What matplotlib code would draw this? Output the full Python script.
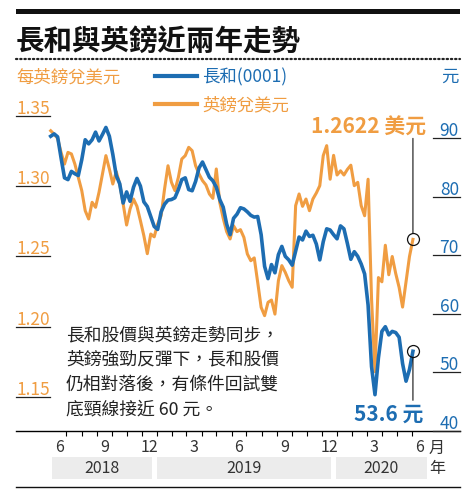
import matplotlib
matplotlib.use('Agg')
import matplotlib.pyplot as plt
import matplotlib.dates as mdates
import matplotlib.transforms as mtransforms
from matplotlib.patches import Rectangle
from matplotlib.lines import Line2D
import pandas as pd

plt.rcParams['font.family'] = ['Noto Sans CJK TC', 'DejaVu Sans']

# ---- data (weekly) ----
title = '長和與英鎊近兩年走勢'
dates = pd.date_range('2018-05-30', periods=106, freq='7D')

# CK Hutchison (0001) close, HK$
ckh = [90.3, 90.7, 90.2, 86.6, 83.2, 82.9, 84.3, 83.9, 83.6, 86.3,
       89.7, 89.0, 89.7, 91.0, 89.5, 90.6, 91.8, 90.3, 87.2, 83.6,
       82.2, 78.9, 80.8, 79.2, 81.6, 83.1, 81.8, 79.1, 78.3, 76.6,
       74.9, 74.4, 77.4, 78.7, 79.4, 79.5, 79.8, 81.2, 82.9, 83.2,
       81.2, 81.0, 82.6, 84.9, 85.9, 84.6, 83.3, 82.7, 81.6, 79.5,
       78.2, 75.3, 73.5, 76.3, 77.0, 78.1, 77.9, 77.4, 76.8, 76.5,
       76.6, 73.5, 68.1, 66.0, 68.4, 67.0, 70.1, 71.5, 69.8, 69.2,
       68.3, 70.7, 73.1, 72.6, 74.1, 73.2, 73.4, 71.9, 69.2, 72.3,
       74.5, 74.3, 73.5, 72.8, 75.0, 74.5, 72.0, 69.3, 70.6, 69.8,
       68.5, 66.8, 61.5, 51.0, 46.2, 52.5, 57.0, 57.8, 56.4, 57.0,
       56.8, 56.0, 51.5, 48.5, 50.5, 53.6]

# GBP/USD
gbp = [1.3395, 1.3370, 1.3341, 1.3241, 1.3158, 1.3241, 1.3230, 1.3158, 1.3063, 1.2969,
       1.2826, 1.2767, 1.2886, 1.2850, 1.2957, 1.3087, 1.3218, 1.3123, 1.3016, 1.3104,
       1.3016, 1.2874, 1.2724, 1.2838, 1.2909, 1.2857, 1.2755, 1.2648, 1.2520, 1.2660,
       1.2640, 1.2731, 1.2790, 1.2980, 1.3146, 1.3028, 1.2969, 1.3063, 1.3194, 1.3218,
       1.3277, 1.3253, 1.3146, 1.3087, 1.3040, 1.3009, 1.2945, 1.2914, 1.3123, 1.2886,
       1.2772, 1.2677, 1.2625, 1.2719, 1.2677, 1.2691, 1.2636, 1.2518, 1.2470, 1.2490,
       1.2316, 1.2138, 1.2079, 1.2174, 1.2190, 1.2090, 1.2328, 1.2435, 1.2387, 1.2328,
       1.2281, 1.2862, 1.2945, 1.2857, 1.2909, 1.2826, 1.2909, 1.2952, 1.3004, 1.3218,
       1.3289, 1.3050, 1.3220, 1.3080, 1.3110, 1.3080, 1.3120, 1.3150, 1.3004, 1.3028,
       1.2862, 1.2790, 1.3050, 1.2200, 1.1680, 1.2350, 1.2320, 1.2580, 1.2370, 1.2500,
       1.2380, 1.2280, 1.2140, 1.2320, 1.2500, 1.2622]

gbp_ticks = [1.35, 1.30, 1.25, 1.20, 1.15]
ckh_ticks = [90, 80, 70, 60, 50, 40]
month_labels = ['6', '9', '12', '3', '6', '9', '12', '3', '6']
label_months = ['2018-06-16', '2018-09-16', '2018-12-16', '2019-03-16', '2019-06-16',
                '2019-09-16', '2019-12-16', '2020-03-16', '2020-06-16']
years = ['2018', '2019', '2020']
year_spans = [('2018-06-01', '2018-12-21'), ('2019-01-01', '2019-12-20'),
              ('2019-12-29', '2020-07-01')]
note_lines = ['長和股價與英鎊走勢同步，',
              '英鎊強勁反彈下，長和股價',
              '仍相對落後，有條件回試雙',
              '底頸線接近 60 元。']

BLUE = '#1d6db2'
ORANGE = '#f09d42'

W, H = 474, 502
fig = plt.figure(figsize=(W / 100, H / 100), dpi=100)


def fx(x):
    return x / W


def fy(y):
    return 1 - y / H


def pts(px):
    return px * 0.72


# main plotting area (pixels: x 16..460, y 120..432)
ax = fig.add_axes([fx(16), fy(432), fx(460) - fx(16), fy(120) - fy(432)])
ax.patch.set_visible(False)
ppd = 180 / 365.25          # pixels per day
jun1 = mdates.date2num(pd.Timestamp('2018-06-01'))
ax.set_xlim(jun1 - 35.7 / ppd, jun1 + 408.3 / ppd)
ax.set_ylim(1.15 - 34 / 1405, 1.15 + 278 / 1405)

axb = ax.twinx()
axb.set_ylim(40, 40 + 312 / 5.86)

ax.plot(dates, gbp, color=ORANGE, lw=2.2, solid_joinstyle='round')
axb.plot(dates, ckh, color=BLUE, lw=2.6, solid_joinstyle='round')

for a in (ax, axb):
    for s in a.spines.values():
        s.set_visible(False)
    a.set_yticks([])
ax.spines['bottom'].set_visible(True)
ax.spines['bottom'].set_linewidth(1.0)

month_starts = pd.date_range('2018-07-01', '2020-06-01', freq='MS')
ax.set_xticks(month_starts)
ax.tick_params(axis='x', direction='out', length=3.6, width=0.8,
               labelbottom=False)

# y labels with underlines
tl = mtransforms.blended_transform_factory(fig.transFigure, ax.transData)
tr = mtransforms.blended_transform_factory(fig.transFigure, axb.transData)
up = mtransforms.ScaledTranslation(0, 3 / 100, fig.dpi_scale_trans)
for v in gbp_ticks:
    ax.add_line(Line2D([fx(16), fx(50)], [v, v], transform=tl, color='#222222',
                       lw=0.9, clip_on=False))
    ax.text(fx(16), v, f'{v:.2f}', transform=tl + up, ha='left', va='baseline',
            fontsize=12.5, color=ORANGE, clip_on=False)
for v in ckh_ticks:
    axb.add_line(Line2D([fx(433), fx(460)], [v, v], transform=tr, color='#222222',
                        lw=0.9, clip_on=False))
    axb.text(fx(459), v, f'{v}', transform=tr + up, ha='right', va='baseline',
             fontsize=12.5, color=BLUE, clip_on=False)

# month labels, year boxes
tx = mtransforms.blended_transform_factory(ax.transData, fig.transFigure)
for d, lab in zip(label_months, month_labels):
    ax.text(pd.Timestamp(d), fy(448), lab, transform=tx, ha='center', va='center',
            fontsize=11.5, color='#333333')
for (s, e), yr in zip(year_spans, years):
    x0 = mdates.date2num(pd.Timestamp(s))
    x1 = mdates.date2num(pd.Timestamp(e))
    ax.add_patch(Rectangle((x0, fy(480)), x1 - x0, fy(458) - fy(480), transform=tx,
                           facecolor='#ececec', edgecolor='none', clip_on=False))
    ax.text((x0 + x1) / 2, fy(469), yr, transform=tx, ha='center', va='center',
            fontsize=11.5, color='#333333')
fig.text(fx(437), fy(448), '月', ha='center', va='center', fontsize=11.5, color='#333333')
fig.text(fx(437), fy(469), '年', ha='center', va='center', fontsize=11.5, color='#333333')
fig.add_artist(Line2D([fx(16), fx(460)], [fy(488), fy(488)], color='#111111', lw=1.0))

# header
fig.add_artist(Rectangle((fx(16), fy(15)), fx(460) - fx(16), fy(10) - fy(15),
                         facecolor='#111111', edgecolor='none'))
fig.text(fx(16), fy(43), title, ha='left', va='center', fontsize=20.5,
         fontweight='bold', color='#111111')
fig.add_artist(Line2D([fx(16), fx(460)], [fy(60), fy(60)], color='#222222', lw=1.6,
                      linestyle=(0, (0.6, 1.3)), dash_capstyle='round'))

# legend row
fig.text(fx(16), fy(77), '每英鎊兌美元', ha='left', va='center', fontsize=12.5, color=ORANGE)
fig.text(fx(459), fy(77), '元', ha='right', va='center', fontsize=12.5, color=BLUE)
fig.add_artist(Line2D([fx(155), fx(197)], [fy(77), fy(77)], color=BLUE, lw=3))
fig.text(fx(202), fy(77), '長和(0001)', ha='left', va='center', fontsize=12.5, color=BLUE)
fig.add_artist(Line2D([fx(155), fx(197)], [fy(105), fy(105)], color=ORANGE, lw=3))
fig.text(fx(202), fy(105), '英鎊兌美元', ha='left', va='center', fontsize=12.5, color=ORANGE)

# note
for i, line in enumerate(note_lines):
    fig.text(fx(66), fy(335 + 24.7 * i), line, ha='left', va='center',
             fontsize=12.8, color='#222222')

# callouts on latest values
ax.plot(dates[-1], gbp[-1], 'o', mfc='none', mec='#111111', ms=8.6, mew=0.9, zorder=5)
ax.annotate('', xy=(dates[-1], gbp[-1]), xytext=(0, pts(101)), textcoords='offset points',
            arrowprops=dict(arrowstyle='-', color='#111111', lw=0.8, shrinkA=0,
                            shrinkB=pts(6)))
ax.annotate(f'{gbp[-1]:.4f} 美元', xy=(dates[-1], gbp[-1]), xytext=(pts(13), pts(113)),
            textcoords='offset points', ha='right', va='center', fontsize=15,
            fontweight='bold', color=ORANGE, annotation_clip=False)

axb.plot(dates[-1], ckh[-1], 'o', mfc='none', mec='#111111', ms=8.6, mew=0.9, zorder=5)
axb.annotate('', xy=(dates[-1], ckh[-1]), xytext=(0, -pts(49)), textcoords='offset points',
             arrowprops=dict(arrowstyle='-', color='#111111', lw=0.8, shrinkA=0,
                             shrinkB=pts(6)))
axb.annotate(f'{ckh[-1]:.1f} 元', xy=(dates[-1], ckh[-1]), xytext=(pts(10), -pts(62)),
             textcoords='offset points', ha='right', va='center', fontsize=15,
             fontweight='bold', color=BLUE, annotation_clip=False)

fig.savefig('out.png', dpi=100)
